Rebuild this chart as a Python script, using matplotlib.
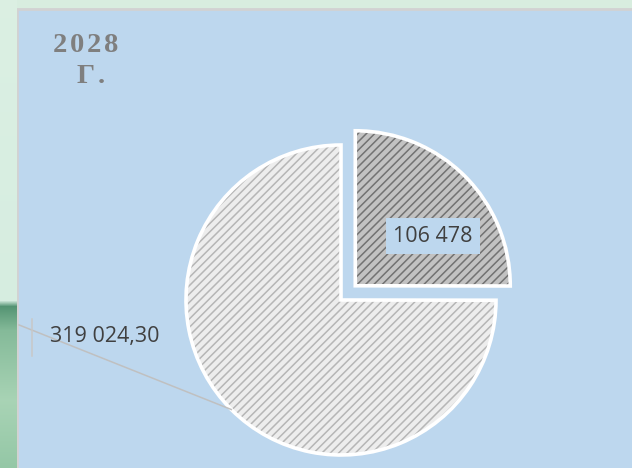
import numpy as np
import matplotlib
matplotlib.use("Agg")
import matplotlib.pyplot as plt
from matplotlib.patches import Rectangle

# data
values = [106478, 319024.30]
value_labels = ["106 478", "319 024,30"]
title_lines = ["2028", "Г."]

face_colors = ["#c2c2c2", "#ededed"]
hatch_colors = ["#727272", "#b6b6b6"]

W, H = 632, 468
plt.rcParams["hatch.linewidth"] = 1.1

fig = plt.figure(figsize=(W / 100, H / 100), dpi=100)
fig.patch.set_facecolor("#d8eddf")

# green slide background strip on the left
bg = fig.add_axes([0, 0, 17 / W, 1])
rows = np.arange(H)
stops = [0, 300, 306, 330, 400, 468]
cols = np.array([[0.86, 0.94, 0.89], [0.84, 0.93, 0.88], [0.33, 0.58, 0.45],
                 [0.52, 0.73, 0.60], [0.66, 0.83, 0.71], [0.58, 0.78, 0.65]])
grad = np.stack([np.interp(rows, stops, cols[:, k]) for k in range(3)], axis=1)
bg.imshow(grad[:, None, :], aspect="auto", extent=[0, 1, 0, 1])
bg.axis("off")

# blue chart panel, kept below the pie axes
fig.add_artist(Rectangle((17 / W, -0.01), 1.0, (H - 9) / H + 0.01,
                         transform=fig.transFigure, facecolor="#bdd7ee",
                         edgecolor="#d2d2d2", linewidth=2.0, zorder=-1))

ax = fig.add_axes([0, 0, 1, 1])
ax.patch.set_alpha(0)

explode = [0.13, 0]
wedges, _ = ax.pie(values, startangle=90, counterclock=False, explode=explode,
                   colors=face_colors, wedgeprops=dict(linewidth=0))
for w, hc in zip(wedges, hatch_colors):
    w.set_edgecolor(hc)
    w.set_linewidth(0)
    w.set_hatch("////")
ax.pie(values, startangle=90, counterclock=False, explode=explode,
       wedgeprops=dict(fill=False, edgecolor="white", linewidth=2.6))

# keep 155 px per data unit on both axes, pie centre at (341, 300) px
scale, cx, cy = 155.0, 341.0, 300.0
ax.set_aspect("auto")
ax.set_xlim(-cx / scale, (W - cx) / scale)
ax.set_ylim(-(H - cy) / scale, cy / scale)
ax.axis("off")

# label of the small slice
c0 = wedges[0].center
ax.text(c0[0] + 0.50, c0[1] + 0.32, value_labels[0], ha="center", va="center",
        fontsize=15.5, family="Open Sans", color="#404040",
        bbox=dict(boxstyle="square,pad=0.34", facecolor="#bdd7ee", edgecolor="none"))

# label of the big slice with leader line
w1 = wedges[1]
mid = np.deg2rad((w1.theta1 + w1.theta2) / 2)
tip = (np.cos(mid), np.sin(mid))
ax.plot([-2.077, tip[0]], [-0.161, tip[1]], color="#c0c0c0", lw=1.1)
ax.plot([-1.994, -1.994], [-0.123, -0.361], color="#c8c8c8", lw=1.1)
ax.text(-1.877, -0.235, value_labels[1], ha="left", va="center",
        fontsize=15.5, family="Open Sans", color="#404040")

# letter-spaced title
fig.canvas.draw()
renderer = fig.canvas.get_renderer()


def spaced(text, x_px, base_px, gap_px):
    x = x_px
    for ch in text:
        t = fig.text(x / W, 1 - base_px / H, ch, ha="left", va="baseline",
                     fontsize=20.5, fontweight="bold", family="Liberation Serif",
                     color="#7f7f7f")
        x += t.get_window_extent(renderer).width + gap_px


spaced(title_lines[0], 53, 52, 2.6)
spaced(title_lines[1], 77, 83, 2.6)

fig.savefig("out.png", dpi=100, facecolor=fig.get_facecolor())
